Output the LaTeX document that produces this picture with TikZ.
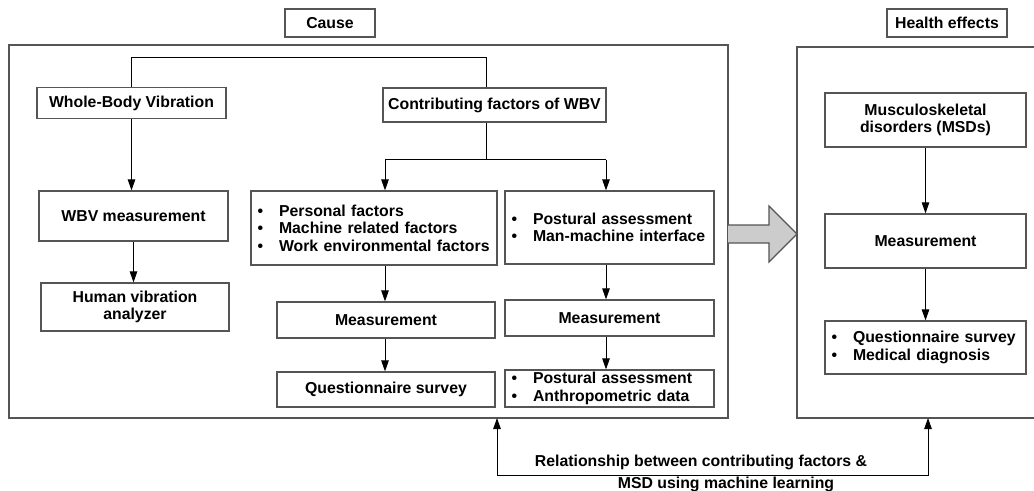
\documentclass[tikz,border=0pt]{standalone}
\usepackage{fontspec}
\setmainfont{Liberation Sans}
\usetikzlibrary{calc,arrows.meta}
\definecolor{cframe}{HTML}{555555}
\definecolor{cgrey}{HTML}{cccccc}
\tikzset{
	every picture/.style={font=\fontsize{9}{10}\selectfont\bfseries,},
	lw/.style={line width=0.7pt,},
	thin/.style={line width=0.55pt,},
	%%%
	box/.style={draw=cframe, lw, fill=white, align=center, inner sep=0pt},
	blist/.style={box, align=left, inner xsep=0.13cm},
	frame/.style={draw=cframe, lw},
	%%%
	line/.style={black, thin},
	link/.style={line, -{Triangle[length=0.22cm, width=0.15cm]}},
	biglink/.style={line, {Triangle[length=0.22cm, width=0.15cm]}-{Triangle[length=0.22cm, width=0.15cm]}},
	bigarrow/.style={draw=cframe, lw, fill=cgrey, line join=miter},
}
\newcommand\itm[1]{\makebox[0.43cm][l]{\textbullet}#1}

\begin{document}
\begin{tikzpicture}[x=0.02cm, y=-0.02cm]

	\useasboundingbox (0,0) rectangle (1034,490);

	%%% Frames, headers

	\draw[frame] (9,45) rectangle (728,418);
	\draw[frame] (1040,47) -- (797,47) -- (797,418) -- (1040,418);

	\node[box, minimum width=1.8cm, minimum height=0.56cm] (cause) at (330,23) {Cause};
	\node[box, minimum width=2.4cm, minimum height=0.56cm] (health) at (947,23) {Health effects};

	%%% Whole-body vibration column

	\node[box, minimum width=3.78cm, minimum height=0.62cm] (wbv) at (131.5,103) {Whole-Body Vibration};
	\node[box, minimum width=3.78cm, minimum height=1.0cm] (wbvmeas) at (133.5,216) {WBV measurement};
	\node[box, minimum width=3.76cm, minimum height=0.96cm] (hva) at (135,307) {Human vibration\\analyzer};

	%%% Contributing factors

	\node[box, minimum width=4.46cm, minimum height=0.68cm] (contrib) at (494.5,105) {Contributing factors of WBV};

	\node[blist, minimum width=4.92cm, minimum height=1.48cm, text width=4.66cm] (pfac) at (374,228)
		{\itm{Personal factors}\\\itm{Machine related factors}\\\itm{Work environmental factors}};
	\node[blist, minimum width=4.18cm, minimum height=1.46cm, text width=3.92cm] (post) at (609.5,227.5)
		{\itm{Postural assessment}\\\itm{Man-machine interface}};

	\node[box, minimum width=4.36cm, minimum height=0.72cm] (measL) at (386,320) {Measurement};
	\node[box, minimum width=4.18cm, minimum height=0.72cm] (measR) at (609.5,318) {Measurement};

	\node[box, minimum width=4.36cm, minimum height=0.70cm] (quest) at (386,389.5) {Questionnaire survey};
	\node[blist, minimum width=4.18cm, minimum height=0.74cm, text width=3.92cm] (anthro) at (609.5,388.5)
		{\itm{Postural assessment}\\\itm{Anthropometric data}};

	%%% Health effects column

	\node[box, minimum width=4.02cm, minimum height=1.08cm] (msd) at (925.5,120) {Musculoskeletal\\disorders (MSDs)};
	\node[box, minimum width=4.02cm, minimum height=1.08cm] (measH) at (925.5,241) {Measurement};
	\node[blist, minimum width=4.02cm, minimum height=1.06cm, text width=3.76cm] (qmed) at (925.5,347.5)
		{\itm{Questionnaire survey}\\\itm{Medical diagnosis}};

	%%% Connectors

	\coordinate (tbar) at (486,57.5);
	\coordinate (bL) at (385,159.5);
	\coordinate (bR) at (606,159.5);

	\draw[line] (wbv.north) |- (tbar) -- (tbar |- contrib.north);
	\draw[link] (wbv.south) -- (wbv.south |- wbvmeas.north);
	\draw[link] (wbvmeas.south) -- (wbvmeas.south |- hva.north);

	\draw[line] (tbar |- contrib.south) -- (tbar |- bL);
	\draw[line] (bL) -- (bR);
	\draw[link] (bL) -- (bL |- pfac.north);
	\draw[link] (bR) -- (bR |- post.north);
	\draw[link] (bL |- pfac.south) -- (bL |- measL.north);
	\draw[link] (bR |- post.south) -- (bR |- measR.north);
	\draw[link] (bL |- measL.south) -- (bL |- quest.north);
	\draw[link] (bR |- measR.south) -- (bR |- anthro.north);

	\draw[link] (msd.south) -- (measH.north);
	\draw[link] (measH.south) -- (qmed.north);

	%%% Cause -> health effects

	\draw[bigarrow] (728,225) -- (769,225) -- (769,206) -- (797,234) -- (769,262) -- (769,243) -- (728,243);

	%%% Relationship

	\coordinate (lfb) at (497,418);
	\coordinate (rfb) at (928,418);
	\coordinate (rr) at (928,475);
	\draw[biglink] (lfb) |- (rr) -- (rfb);
	\node[anchor=base] (rel1) at (701,466) {Relationship between contributing factors \&};
	\node[anchor=base] (rel2) at (726,488) {MSD using machine learning};

\end{tikzpicture}
\end{document}
